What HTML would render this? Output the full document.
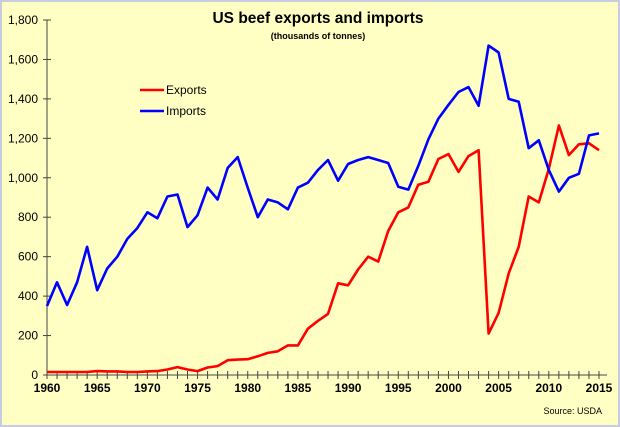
<!DOCTYPE html><html><head><style>body{margin:0}svg{display:block}text{font-family:"Liberation Sans",sans-serif}</style></head><body>
<svg id="s" width="620" height="427" xmlns="http://www.w3.org/2000/svg">
<rect x="0" y="0" width="620" height="427" fill="#c8cce0"/>
<rect x="2" y="2" width="616" height="423" fill="#ffffc4"/>
<text x="318" y="23" font-size="15.5" font-weight="bold" text-anchor="middle">US beef exports and imports</text>
<text x="318" y="39" font-size="9" font-weight="bold" text-anchor="middle">(thousands of tonnes)</text>
<line x1="140" y1="90" x2="164" y2="90" stroke="#f00" stroke-width="2.5"/>
<text x="166" y="94" font-size="12">Exports</text>
<line x1="140" y1="111" x2="164" y2="111" stroke="#00f" stroke-width="2.5"/>
<text x="166" y="115" font-size="12">Imports</text>
<text x="602" y="414" font-size="9" text-anchor="end">Source: USDA</text>
<g id="g"></g>
</svg>
<script>
var g=document.getElementById('g'),h='';
var X=y=>47+(y-1960)*(552/55), Y=v=>375-v*(355/1800);
h+='<line x1="47" y1="20" x2="47" y2="375" stroke="#444"/><line x1="47" y1="375" x2="607" y2="375" stroke="#444"/>';
for(var v=0;v<=1800;v+=200){h+='<line x1="43" x2="51" y1="'+Y(v)+'" y2="'+Y(v)+'" stroke="#444"/><text x="38" y="'+(Y(v)+4)+'" font-size="12" text-anchor="end">'+v.toLocaleString('en-US')+'</text>';}
for(var y=1960;y<=2015;y++){h+='<line x1="'+X(y)+'" x2="'+X(y)+'" y1="371" y2="379" stroke="#444"/>';if(y%5==0)h+='<text x="'+X(y)+'" y="392" font-size="12" font-weight="bold" text-anchor="middle">'+y+'</text>';}
var ex=[15,15,15,15,15,20,18,18,15,15,18,20,28,40,28,20,38,45,75,78,80,95,112,120,150,150,235,275,310,465,455,535,600,575,730,825,850,965,980,1095,1120,1030,1110,1140,210,315,515,650,905,875,1045,1265,1115,1170,1175,1140];
var im=[350,470,355,470,650,430,540,600,690,745,825,795,905,915,750,810,950,890,1050,1105,950,800,890,875,840,950,975,1040,1090,985,1070,1090,1105,1090,1075,955,940,1060,1195,1300,1370,1435,1460,1365,1670,1635,1400,1385,1150,1190,1040,930,1000,1020,1215,1225];
function pl(a,c){return '<polyline fill="none" stroke="'+c+'" stroke-width="2.6" stroke-linejoin="round" points="'+a.map((v,i)=>X(1960+i).toFixed(1)+','+Y(v).toFixed(1)).join(' ')+'"/>';}
h+=pl(ex,'#f00')+pl(im,'#00f');
g.innerHTML=h;
</script>
</body></html>
